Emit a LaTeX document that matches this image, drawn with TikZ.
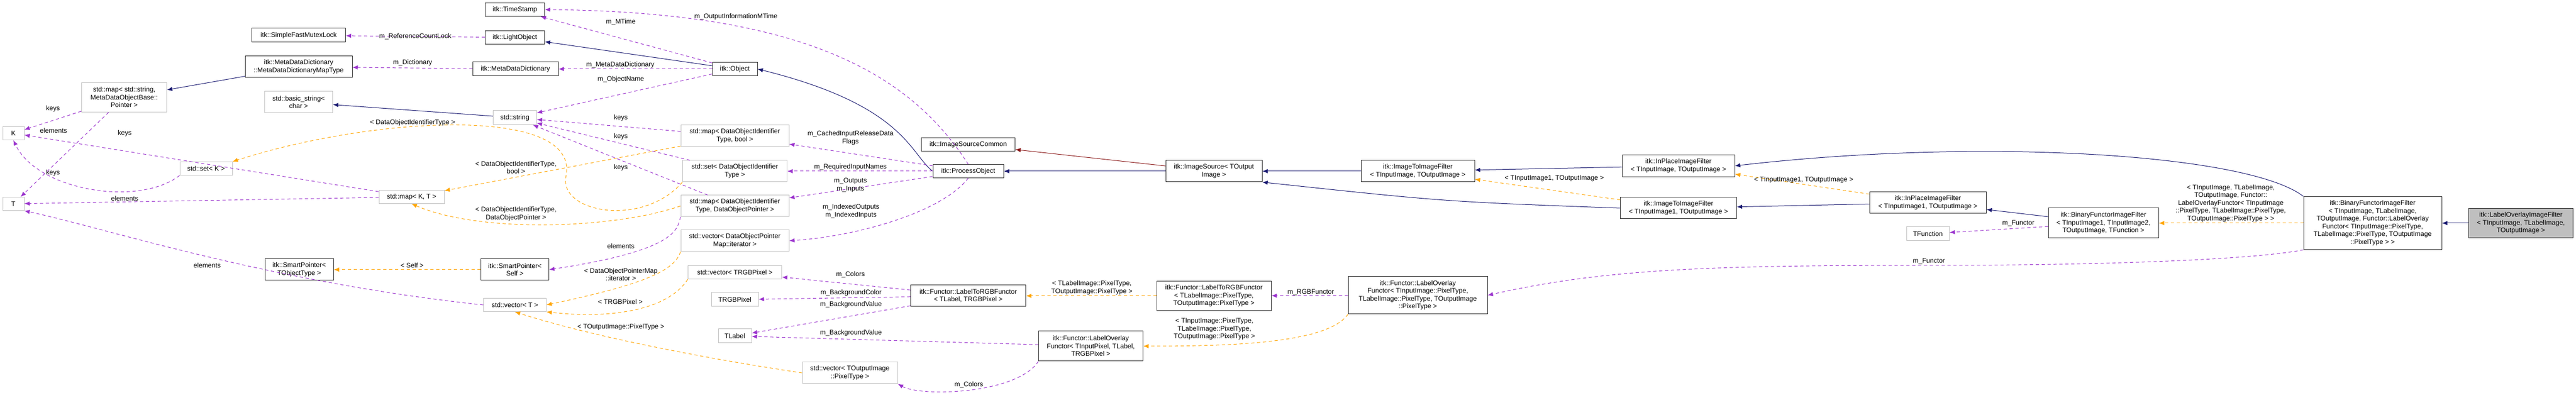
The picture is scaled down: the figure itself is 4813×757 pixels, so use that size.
\documentclass[tikz,border=0pt]{standalone}
\usepackage{fontspec}
\setmainfont{Liberation Sans}
\usetikzlibrary{arrows.meta}
\definecolor{inhblue}{HTML}{191970}
\definecolor{usepurple}{HTML}{9A32CD}
\definecolor{tplorange}{HTML}{FFA500}
\definecolor{protred}{HTML}{8B1A1A}
\begin{document}
\begin{tikzpicture}[x=1pt, y=1pt,
  font=\fontsize{12.5}{14.5}\selectfont,
  box/.style={draw, line width=1pt, align=center, inner sep=2pt},
  doc/.style={box, draw=black!85},
  udoc/.style={box, draw=black!25},
  lbl/.style={align=center, inner sep=0pt},
  inh/.style={draw=inhblue, line width=1pt, -{Latex[length=10pt, width=8pt]}},
  prot/.style={draw=protred, line width=1pt, -{Latex[length=10pt, width=8pt]}},
  use/.style={draw=usepurple, line width=1pt, dash pattern=on 6pt off 5pt, -{Latex[length=10pt, width=8pt]}},
  tpl/.style={draw=tplorange, line width=1pt, dash pattern=on 6pt off 5pt, -{Latex[length=10pt, width=8pt]}}]
\useasboundingbox (0,0) rectangle (4813,757);

% undocumented classes
\node[udoc, minimum width=40, minimum height=25] (K) at (25,508) {K};
\node[udoc, minimum width=40, minimum height=25] (T) at (25,376) {T};
\node[udoc, minimum width=159, minimum height=55] (mapSM) at (232,575) {std::map< std::string,\\ MetaDataObjectBase::\\Pointer >};
\node[udoc, minimum width=98, minimum height=25] (setK) at (385,442) {std::set< K >};
\node[udoc, minimum width=127, minimum height=40] (basicStr) at (558,566) {std::basic\_string<\\char >};
\node[udoc, minimum width=81, minimum height=26] (stdString) at (962,537) {std::string};
\node[udoc, minimum width=122, minimum height=25] (mapKT) at (769,389) {std::map< K, T >};
\node[udoc, minimum width=117, minimum height=25] (vecT) at (962,187) {std::vector< T >};
\node[udoc, minimum width=202, minimum height=40] (mapBool) at (1373,503) {std::map< DataObjectIdentifier\\Type, bool >};
\node[udoc, minimum width=195, minimum height=40] (setId) at (1373,437) {std::set< DataObjectIdentifier\\Type >};
\node[udoc, minimum width=202, minimum height=40] (mapPtr) at (1373,372) {std::map< DataObjectIdentifier\\Type, DataObjectPointer >};
\node[udoc, minimum width=202, minimum height=40] (vecIter) at (1373,307) {std::vector< DataObjectPointer\\Map::iterator >};
\node[udoc, minimum width=175, minimum height=25] (vecRGB) at (1373,248) {std::vector< TRGBPixel >};
\node[udoc, minimum width=88, minimum height=26] (tRGB) at (1373,197) {TRGBPixel};
\node[udoc, minimum width=62, minimum height=26] (tLabel) at (1373,129) {TLabel};
\node[udoc, minimum width=178, minimum height=40] (vecOut) at (1588,60) {std::vector< TOutputImage\\::PixelType >};
\node[udoc, minimum width=80, minimum height=26] (tFunc) at (3602,320) {TFunction};

% documented classes
\node[doc, minimum width=175, minimum height=26] (mutex) at (558,691) {itk::SimpleFastMutexLock};
\node[doc, minimum width=200, minimum height=40] (mapType) at (558,632) {itk::MetaDataDictionary\\::MetaDataDictionaryMapType};
\node[doc, minimum width=128, minimum height=40] (spObj) at (559,253) {itk::SmartPointer<\\TObjectType >};
\node[doc, minimum width=111, minimum height=25] (stamp) at (962,739) {itk::TimeStamp};
\node[doc, minimum width=111, minimum height=25] (light) at (962,687) {itk::LightObject};
\node[doc, minimum width=160, minimum height=26] (dict) at (963,628) {itk::MetaDataDictionary};
\node[doc, minimum width=127, minimum height=40] (spSelf) at (962,253) {itk::SmartPointer<\\Self >};
\node[doc, minimum width=84, minimum height=25] (obj) at (1373,628) {itk::Object};
\node[doc, minimum width=175, minimum height=25] (isc) at (1809,487) {itk::ImageSourceCommon};
\node[doc, minimum width=132, minimum height=25] (po) at (1809,437) {itk::ProcessObject};
\node[doc, minimum width=215, minimum height=40] (rgbA) at (1809,204) {itk::Functor::LabelToRGBFunctor\\< TLabel, TRGBPixel >};
\node[doc, minimum width=195, minimum height=56] (ovA) at (2038,110) {itk::Functor::LabelOverlay\\Functor< TInputPixel, TLabel,\\TRGBPixel >};
\node[doc, minimum width=180, minimum height=40] (src) at (2268,437) {itk::ImageSource< TOutput\\Image >};
\node[doc, minimum width=214, minimum height=55] (rgbB) at (2268,204) {itk::Functor::LabelToRGBFunctor\\< TLabelImage::PixelType,\\TOutputImage::PixelType >};
\node[doc, minimum width=212, minimum height=40] (itiA) at (2649,437) {itk::ImageToImageFilter\\< TInputImage, TOutputImage >};
\node[doc, minimum width=260, minimum height=70] (ovB) at (2649,205) {itk::Functor::LabelOverlay\\Functor< TInputImage::PixelType,\\TLabelImage::PixelType, TOutputImage\\::PixelType >};
\node[doc, minimum width=210, minimum height=41] (ipA) at (3136,447) {itk::InPlaceImageFilter\\< TInputImage, TOutputImage >};
\node[doc, minimum width=217, minimum height=40] (itiB) at (3136,368) {itk::ImageToImageFilter\\< TInputImage1, TOutputImage >};
\node[doc, minimum width=218, minimum height=40] (ipB) at (3602,378) {itk::InPlaceImageFilter\\< TInputImage1, TOutputImage >};
\node[doc, minimum width=206, minimum height=56] (bfA) at (3930,340) {itk::BinaryFunctorImageFilter\\< TInputImage1, TInputImage2,\\TOutputImage, TFunction >};
\node[doc, minimum width=258, minimum height=99] (bfB) at (4433,340) {itk::BinaryFunctorImageFilter\\< TInputImage, TLabelImage,\\TOutputImage, Functor::LabelOverlay\\Functor< TInputImage::PixelType,\\TLabelImage::PixelType, TOutputImage\\::PixelType > >};
\node[doc, fill=black!25, minimum width=195, minimum height=55] (lo) at (4710,340) {itk::LabelOverlayImageFilter\\< TInputImage, TLabelImage,\\TOutputImage >};

% inheritance
\draw[inh] (mapType) -- (mapSM);
\draw[inh] (stdString) -- (basicStr);
\draw[inh] (obj) -- (light);
\draw[inh] (po.west) .. controls (1700,470) and (1690,560) .. (obj.east);
\draw[inh] (src) -- (po);
\draw[prot] (src) -- (isc);
\draw[inh] (itiA) -- (src);
\draw[inh] (itiB.west) .. controls (2700,380) .. (src.south east);
\draw[inh] (ipA) -- (itiA);
\draw[inh] (ipB) -- (itiB);
\draw[inh] (bfA) -- (ipB);
\draw[inh] (bfB.north west) .. controls (4200,470) and (3700,500) .. (ipA.east);
\draw[inh] (lo) -- (bfB);

% members
\draw[use] (light) -- (mutex) node[lbl, pos=0.5] (lRef) at (771,698) {m\_ReferenceCountLock};
\draw[use] (dict) -- (mapType);
\draw[use] (obj) -- (stamp);
\draw[use] (obj) -- (dict);
\draw[use] (obj) -- (stdString);
\draw[use] (po.north) .. controls (1700,620) and (1500,735) .. (stamp.east);
\draw[use] (po) -- (mapBool);
\draw[use] (po) -- (setId);
\draw[use] (po) -- (mapPtr);
\draw[use] (po.south) .. controls (1760,360) and (1600,315) .. (vecIter.east);
\draw[use] (mapSM) -- (K);
\draw[use] (mapSM) -- (T);
\draw[use] (mapKT) -- (K);
\draw[use] (mapKT) -- (T);
\draw[use] (setK.south west) .. controls (260,370) and (70,400) .. (K.south);
\draw[use] (mapBool) -- (stdString);
\draw[use] (setId) -- (stdString);
\draw[use] (mapPtr) -- (stdString);
\draw[use] (mapPtr.south west) .. controls (1265,330) and (1270,290) .. (spSelf.east);
\draw[use] (vecT.west) .. controls (500,230) and (200,330) .. (T.south east);
\draw[use] (rgbA) -- (vecRGB);
\draw[use] (rgbA) -- (tRGB);
\draw[use] (rgbA) -- (tLabel);
\draw[use] (ovA) -- (tLabel);
\draw[use] (ovA.south west) .. controls (1900,20) and (1720,15) .. (vecOut.south east);
\draw[use] (ovB) -- (rgbB);
\draw[use] (bfA) -- (tFunc);
\draw[use] (bfB.south west) .. controls (4200,270) and (3900,261) .. (3604,261) .. controls (3200,261) and (3000,255) .. (ovB.east);

% templates
\draw[tpl] (setId.south west) .. controls (1200,330) and (1040,360) .. (1058,430) .. controls (1080,560) and (700,540) .. (setK.north east);
\draw[tpl] (mapBool) -- (mapKT);
\draw[tpl] (mapPtr.west) .. controls (1150,330) and (900,320) .. (mapKT.south);
\draw[tpl] (spSelf) -- (spObj);
\draw[tpl] (vecIter.south west) .. controls (1260,250) and (1200,225) .. (vecT.east);
\draw[tpl] (vecRGB.south west) .. controls (1250,180) and (1150,160) .. (vecT.south east);
\draw[tpl] (vecOut.west) .. controls (1300,90) and (1100,130) .. (vecT.south);
\draw[tpl] (rgbB) -- (rgbA);
\draw[tpl] (ovB.south west) .. controls (2480,115) and (2300,110) .. (ovA.east);
\draw[tpl] (itiB) -- (itiA);
\draw[tpl] (ipB) -- (ipA);
\draw[tpl] (bfB) -- (bfA);

% labels
\node[lbl] (lKeys1) at (99,554) {keys};
\node[lbl] (lElem1) at (100,513) {elements};
\node[lbl] (lKeys2) at (233,508) {keys};
\node[lbl] (lKeys3) at (99,434) {keys};
\node[lbl] (lElem2) at (233,386) {elements};
\node[lbl] (lElem3) at (387,261) {elements};
\node[lbl] (lDoit) at (771,528) {< DataObjectIdentifierType >};
\node[lbl] (lDict) at (771,640) {m\_Dictionary};
\node[lbl] (lMTime) at (1160,716) {m\_MTime};
\node[lbl] (lMeta) at (1159,636) {m\_MetaDataDictionary};
\node[lbl] (lName) at (1160,609) {m\_ObjectName};
\node[lbl] (lKeys4) at (1160,537) {keys};
\node[lbl] (lKeys5) at (1160,502) {keys};
\node[lbl] (lKeys6) at (1160,444) {keys};
\node[lbl] (lBool) at (964,444) {< DataObjectIdentifierType,\\bool >};
\node[lbl] (lPtr) at (964,357) {< DataObjectIdentifierType,\\DataObjectPointer >};
\node[lbl] (lSelf) at (770,261) {< Self >};
\node[lbl] (lElem4) at (1160,297) {elements};
\node[lbl] (lIter) at (1160,244) {< DataObjectPointerMap\\::iterator >};
\node[lbl] (lRGB) at (1159,193) {< TRGBPixel >};
\node[lbl] (lOutPix) at (1160,146) {< TOutputImage::PixelType >};
\node[lbl] (lOutInfo) at (1375,726) {m\_OutputInformationMTime};
\node[lbl] (lCached) at (1589,499) {m\_CachedInputReleaseData\\Flags};
\node[lbl] (lReq) at (1589,445) {m\_RequiredInputNames};
\node[lbl] (lIO) at (1589,411) {m\_Outputs\\m\_Inputs};
\node[lbl] (lIdx) at (1590,362) {m\_IndexedOutputs\\m\_IndexedInputs};
\node[lbl] (lColA) at (1589,244) {m\_Colors};
\node[lbl] (lBgCol) at (1590,210) {m\_BackgroundColor};
\node[lbl] (lBgValA) at (1590,188) {m\_BackgroundValue};
\node[lbl] (lBgValB) at (1590,135) {m\_BackgroundValue};
\node[lbl] (lColB) at (1810,38) {m\_Colors};
\node[lbl] (lRGBPix) at (2040,219) {< TLabelImage::PixelType,\\TOutputImage::PixelType >};
\node[lbl] (lRGBF) at (2449,211) {m\_RGBFunctor};
\node[lbl] (lOvPix) at (2269,142) {< TInputImage::PixelType,\\TLabelImage::PixelType,\\TOutputImage::PixelType >};
\node[lbl] (lIti) at (2904,424) {< TInputImage1, TOutputImage >};
\node[lbl] (lIp) at (3370,421) {< TInputImage1, TOutputImage >};
\node[lbl] (lFuncA) at (3771,340) {m\_Functor};
\node[lbl] (lFuncB) at (3604,269) {m\_Functor};
\node[lbl] (lBf) at (4168,377) {< TInputImage, TLabelImage,\\TOutputImage, Functor::\\LabelOverlayFunctor< TInputImage\\::PixelType, TLabelImage::PixelType,\\TOutputImage::PixelType > >};
\end{tikzpicture}
\end{document}
